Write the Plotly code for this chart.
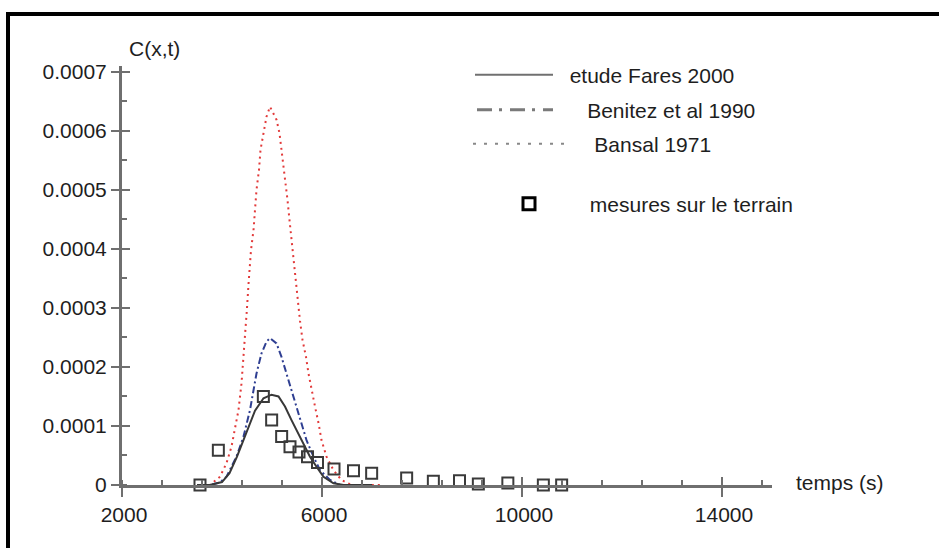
import plotly.graph_objects as go

# ---------------- data ----------------
fares_t = [3500, 3760, 4000, 4150, 4300, 4500, 4660, 4830, 4990, 5130, 5260, 5390,
           5500, 5630, 5760, 5890, 6030, 6230, 6430, 7000]
fares_c = [0, 0, 5e-6, 2.0e-5, 4.8e-5, 9.0e-5, 1.26e-4, 1.47e-4, 1.53e-4, 1.50e-4,
           1.33e-4, 1.10e-4, 9.2e-5, 7.1e-5, 4.8e-5, 3.1e-5, 1.4e-5, 3e-6, 0, 0]

benitez_t = [3500, 3760, 3950, 4090, 4290, 4430, 4560, 4690, 4790, 4890, 4960, 5090,
             5190, 5290, 5390, 5490, 5590, 5690, 5830, 5960, 6160, 6360, 7000]
benitez_c = [0, 0, 4e-6, 1.4e-5, 4.8e-5, 8.2e-5, 1.27e-4, 1.89e-4, 2.23e-4, 2.43e-4,
             2.49e-4, 2.40e-4, 2.17e-4, 1.89e-4, 1.61e-4, 1.33e-4, 1.05e-4, 7.6e-5,
             4.8e-5, 2.5e-5, 8.5e-6, 0, 0]

bansal_t = [3500, 3760, 3960, 4090, 4190, 4260, 4330, 4390, 4460, 4500, 4530, 4580,
            4630, 4660, 4690, 4740, 4770, 4830, 4890, 4960, 5090, 5150, 5190, 5240,
            5280, 5310, 5350, 5390, 5430, 5470, 5510, 5560, 5610, 5680, 5730, 5790,
            5860, 5930, 5990, 6090, 6230, 6390, 6590, 7200]
bansal_c = [0, 0, 1.4e-5, 3.7e-5, 6.5e-5, 9.3e-5, 1.27e-4, 1.72e-4, 2.46e-4, 3.0e-4,
            3.4e-4, 3.98e-4, 4.32e-4, 4.72e-4, 5.0e-4, 5.34e-4, 5.68e-4, 5.96e-4,
            6.24e-4, 6.41e-4, 6.19e-4, 5.96e-4, 5.68e-4, 5.40e-4, 5.11e-4, 4.83e-4,
            4.49e-4, 4.15e-4, 3.87e-4, 3.55e-4, 3.15e-4, 2.78e-4, 2.46e-4, 2.17e-4,
            1.89e-4, 1.61e-4, 1.33e-4, 1.05e-4, 7.6e-5, 4.8e-5, 2.5e-5, 8.5e-6, 0, 0]

mesures_t = [3560, 3927, 4827, 4993, 5193, 5360, 5540, 5710, 5910, 6240, 6630, 6993,
             7693, 8227, 8750, 9127, 9717, 10427, 10793]
mesures_c = [0, 5.9e-5, 1.50e-4, 1.10e-4, 8.2e-5, 6.5e-5, 5.6e-5, 4.8e-5, 3.8e-5,
             2.7e-5, 2.4e-5, 2.0e-5, 1.2e-5, 6.5e-6, 7.3e-6, 1.7e-6, 3.3e-6, 0, 0]

names = ["etude Fares 2000", "Benitez et al 1990", "Bansal 1971", "mesures sur le terrain"]

x_tickvals = [2000, 6000, 10000, 14000]
x_ticktext = ["2000", "6000", "10000", "14000"]
y_tickvals = [0, 0.0001, 0.0002, 0.0003, 0.0004, 0.0005, 0.0006, 0.0007]
y_ticktext = ["0", "0.0001", "0.0002", "0.0003", "0.0004", "0.0005", "0.0006", "0.0007"]

# ---------------- layout geometry ----------------
W, H = 939, 548
L, R, T, B = 122, 167, 66, 63
PW, PH = W - L - R, H - T - B


def px(x):
    return (x - L) / PW


def py(y):
    return (H - B - y) / PH


FONT = "Liberation Sans, Arial, sans-serif"
AX = "#6f6f6f"
TXT = "#1e1e1e"
NB = "\u00a0"

fig = go.Figure()

fig.add_trace(go.Scatter(x=bansal_t, y=bansal_c, mode="lines", showlegend=False,
                         line=dict(color="#e23a3a", width=2, dash="2px,4px")))
fig.add_trace(go.Scatter(x=benitez_t, y=benitez_c, mode="lines", showlegend=False,
                         line=dict(color="#2f3f92", width=2, dash="7px,3px,2px,3px")))
fig.add_trace(go.Scatter(x=fares_t, y=fares_c, mode="lines", showlegend=False,
                         line=dict(color="#383838", width=2)))
fig.add_trace(go.Scatter(x=mesures_t, y=mesures_c, mode="markers", showlegend=False,
                         cliponaxis=False,
                         marker=dict(symbol="square-open", size=11,
                                     line=dict(width=2, color="#3a3a3a"), color="#3a3a3a")))

# legend-only entries (grey samples as in the original)
fig.add_trace(go.Scatter(x=[None], y=[None], mode="lines", name=NB * 2 + names[0],
                         legend="legend", line=dict(color="#707070", width=2)))
fig.add_trace(go.Scatter(x=[None], y=[None], mode="lines", name=NB * 5 + names[1],
                         legend="legend2",
                         line=dict(color="#7a7a7a", width=3, dash="15px,7px,3px,8px")))
fig.add_trace(go.Scatter(x=[None], y=[None], mode="lines", name=NB * 4 + names[2],
                         legend="legend3", line=dict(color="#888888", width=2, dash="3px,8px")))
fig.add_trace(go.Scatter(x=[None], y=[None], mode="markers", name=NB * 7 + names[3],
                         legend="legend4",
                         marker=dict(symbol="square-open", size=12, color="#000",
                                     line=dict(width=3, color="#000"))))

# overlay axes for the inner half of the major ticks
fig.add_trace(go.Scatter(x=[None], y=[None], xaxis="x2", yaxis="y2", showlegend=False))

lg = dict(bgcolor="rgba(0,0,0,0)", borderwidth=0, xanchor="left", yanchor="middle",
          font=dict(family=FONT, size=21, color=TXT), tracegroupgap=0)

fig.update_layout(
    width=W, height=H,
    margin=dict(l=L, r=R, t=T, b=B, pad=0),
    paper_bgcolor="white", plot_bgcolor="white",
    font=dict(family=FONT, size=21, color=TXT),
    xaxis=dict(range=[2000, 15000], tickmode="array", tickvals=x_tickvals,
               ticktext=x_ticktext, showgrid=False, zeroline=False,
               showline=True, linecolor=AX, linewidth=3,
               ticks="outside", ticklen=9, tickwidth=2, tickcolor=AX,
               ticklabelstandoff=0, ticklabelshift=2,
               minor=dict(tick0=2000, dtick=800, ticks="inside", ticklen=5,
                          tickwidth=2, tickcolor=AX, showgrid=False),
               tickfont=dict(family=FONT, size=21, color=TXT)),
    yaxis=dict(range=[0, 0.00071], tickmode="array", tickvals=y_tickvals,
               ticktext=y_ticktext, showgrid=False, zeroline=False,
               showline=True, linecolor=AX, linewidth=3,
               ticks="outside", ticklen=8, tickwidth=2, tickcolor=AX,
               ticklabelstandoff=0,
               minor=dict(dtick=0.00005, ticks="inside", ticklen=5,
                          tickwidth=2, tickcolor=AX, showgrid=False),
               tickfont=dict(family=FONT, size=21, color=TXT)),
    xaxis2=dict(overlaying="x", anchor="y2", range=[2000, 15000], tickmode="array",
                tickvals=x_tickvals, showticklabels=False, showline=False,
                showgrid=False, zeroline=False, ticks="inside", ticklen=8,
                tickwidth=2, tickcolor=AX, side="bottom"),
    yaxis2=dict(overlaying="y", anchor="x2", range=[0, 0.00071], tickmode="array",
                tickvals=y_tickvals, showticklabels=False, showline=False,
                showgrid=False, zeroline=False, ticks="inside", ticklen=8,
                tickwidth=2, tickcolor=AX, side="left"),
    legend=dict(lg, x=px(470), y=py(75), itemwidth=78),
    legend2=dict(lg, x=px(472), y=py(110), itemwidth=76),
    legend3=dict(lg, x=px(468), y=py(144), itemwidth=93),
    legend4=dict(lg, x=px(509), y=py(204), itemwidth=30),
    annotations=[
        dict(text="C(x,t)", xref="paper", yref="paper", x=px(127), y=py(49),
             xanchor="left", yanchor="middle", showarrow=False,
             font=dict(family=FONT, size=21, color=TXT)),
        dict(text="temps (s)", xref="paper", yref="paper", x=px(794), y=py(482),
             xanchor="left", yanchor="middle", showarrow=False,
             font=dict(family=FONT, size=21, color=TXT)),
    ],
    shapes=[
        # frame of the original figure: top and left edges only
        dict(type="line", xref="paper", yref="paper", x0=px(6), x1=px(939),
             y0=py(14), y1=py(14), line=dict(color="black", width=4), layer="below"),
        dict(type="line", xref="paper", yref="paper", x0=px(8), x1=px(8),
             y0=py(12), y1=py(548), line=dict(color="black", width=4), layer="below"),
    ],
)

fig.write_html("out.html")
